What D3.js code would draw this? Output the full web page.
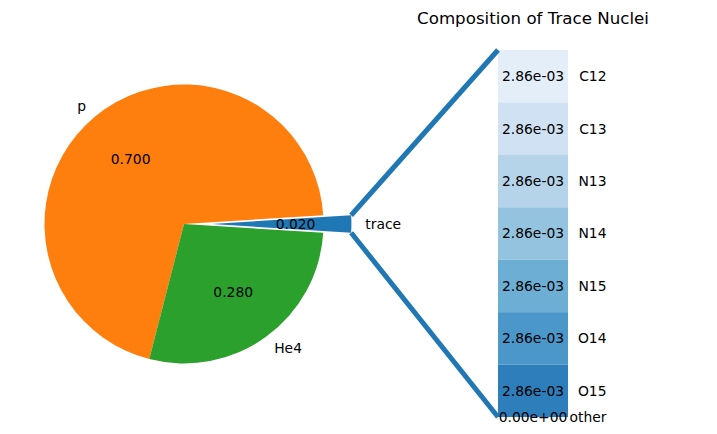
<!DOCTYPE html>
<html>
<head>
<meta charset="utf-8">
<script src="https://cdn.jsdelivr.net/npm/d3@7"></script>
<style>
  body { margin: 0; background: #fff; }
  text { font-family: "DejaVu Sans", sans-serif; font-size: 13.89px; fill: #000; }
</style>
</head>
<body>
<div id="chart"></div>
<script>
// pie data (first slice is the exploded one)
var pieLabels = ["trace", "p", "He4"];
var pieValues = [0.02, 0.70, 0.28];
var pieColors = ["#1f77b4", "#ff7f0e", "#2ca02c"];

// trace breakdown, top to bottom
var traceLabels = ["C12", "C13", "N13", "N14", "N15", "O14", "O15", "other"];
var traceValues = [2.857e-3, 2.857e-3, 2.857e-3, 2.857e-3, 2.857e-3, 2.857e-3, 2.857e-3, 0];

var width = 717, height = 434;
var cx = 184, cy = 224, radius = 139.5;
var explode = 0.2;

var svg = d3.select("#chart").append("svg")
	.attr("width", width)
	.attr("height", height);

// matplotlib style: counterclockwise from 3 o'clock, start = -180*first ratio
var startDeg = -180 * pieValues[0];
function toD3(deg) { return (90 - deg) * Math.PI / 180; }
function toMath(rad) { return (90 - rad * 180 / Math.PI) * Math.PI / 180; }

var pie = d3.pie().sort(null)
	.startAngle(toD3(startDeg))
	.endAngle(toD3(startDeg + 360));
var arcs = pie(pieValues);
var arc = d3.arc().innerRadius(0).outerRadius(radius);

var g = svg.append("g");
arcs.forEach(function(a, i) {
	var m = toMath((a.startAngle + a.endAngle) / 2);
	var off = i == 0 ? explode * radius : 0;
	a.ox = cx + off * Math.cos(m);
	a.oy = cy - off * Math.sin(m);
	a.mid = m;
	g.append("path")
		.attr("d", arc(a))
		.attr("transform", "translate(" + a.ox + "," + a.oy + ")")
		.style("fill", pieColors[i]);
});

arcs.forEach(function(a, i) {
	var lx = a.ox + 1.1 * radius * Math.cos(a.mid);
	var ly = a.oy - 1.1 * radius * Math.sin(a.mid);
	g.append("text")
		.attr("x", lx).attr("y", ly)
		.attr("dy", "0.35em")
		.attr("text-anchor", lx > cx ? "start" : "end")
		.text(pieLabels[i]);
	g.append("text")
		.attr("x", a.ox + 0.6 * radius * Math.cos(a.mid))
		.attr("y", a.oy - 0.6 * radius * Math.sin(a.mid))
		.attr("dy", "0.35em")
		.attr("text-anchor", "middle")
		.text(d3.format(".3f")(pieValues[i]));
});

// bar of the trace nuclei
var total = d3.sum(traceValues);
var x = d3.scaleLinear().domain([-2.5, 2.5]).range([358, 708]);
var y = d3.scaleLinear().domain([0, total]).range([417, 50]);
var barW = 1;

function sci(v) {
	var s = v.toExponential(2);
	var p = s.split("e");
	var e = parseInt(p[1], 10);
	var es = (e < 0 ? "-" : "+") + (Math.abs(e) < 10 ? "0" : "") + Math.abs(e);
	return p[0] + "e" + es;
}

var level = total;
var bars = svg.append("g");
traceValues.forEach(function(v, i) {
	var y0 = y(level), y1 = y(level - v);
	bars.append("rect")
		.attr("x", x(-barW / 2))
		.attr("y", y0)
		.attr("width", x(barW / 2) - x(-barW / 2))
		.attr("height", y1 - y0)
		.style("fill", d3.interpolateBlues(0.1 + 0.1 * i));
	var ym = (y0 + y1) / 2;
	bars.append("text")
		.attr("x", x(0)).attr("y", ym)
		.attr("dy", "0.35em")
		.attr("text-anchor", "middle")
		.text(sci(v));
	bars.append("text")
		.attr("x", x(1.05)).attr("y", ym)
		.attr("dy", "0.35em")
		.attr("text-anchor", "end")
		.text(traceLabels[i]);
	level -= v;
});

svg.append("text")
	.attr("x", x(0)).attr("y", 24)
	.attr("text-anchor", "middle")
	.style("font-size", "16.67px")
	.text("Composition of Trace Nuclei");

// connection lines from the exploded wedge corners to the bar
var t = arcs[0];
var aTop = toMath(t.endAngle), aBot = toMath(t.startAngle);
var pts = [
	[t.ox + radius * Math.cos(aTop), t.oy - radius * Math.sin(aTop), y(total)],
	[t.ox + radius * Math.cos(aBot), t.oy - radius * Math.sin(aBot), y(0)]
];
pts.forEach(function(p) {
	svg.append("line")
		.attr("x1", p[0]).attr("y1", p[1])
		.attr("x2", x(-barW / 2)).attr("y2", p[2])
		.style("stroke", "#1f77b4")
		.style("stroke-width", 5);
});
</script>
</body>
</html>
